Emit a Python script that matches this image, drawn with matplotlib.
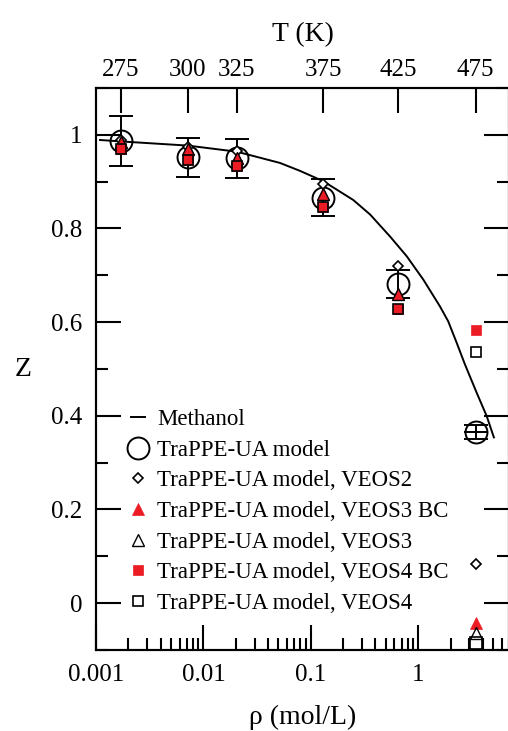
import matplotlib
matplotlib.use('Agg')
import matplotlib.pyplot as plt
from matplotlib.lines import Line2D
from matplotlib.ticker import LogLocator, NullLocator, FixedLocator, MultipleLocator, NullFormatter, FixedFormatter

plt.rcParams['font.family'] = ['Liberation Serif', 'DejaVu Serif']

# ---- data ----
temps = [275, 300, 325, 375, 425, 475]
rho_sat = [0.001705, 0.00716, 0.02046, 0.1306, 0.652, 3.42]

z_trappe = [0.987, 0.952, 0.950, 0.866, 0.681, 0.365]
z_trappe_err = [0.054, 0.042, 0.042, 0.040, 0.030, 0.015]
rho_trappe_err_lo = [0, 0, 0, 0, 0, 0.77]
rho_trappe_err_hi = [0, 0, 0, 0, 0, 0.99]
z_veos2 = [0.990, 0.975, 0.966, 0.896, 0.720, 0.083]
z_veos3_bc = [0.984, 0.969, 0.950, 0.873, 0.661, -0.042]
z_veos3 = [0.984, 0.969, 0.950, 0.873, 0.661, -0.063]
z_veos4_bc = [0.969, 0.947, 0.934, 0.845, 0.629, 0.584]
z_veos4 = [0.969, 0.947, 0.934, 0.845, 0.629, 0.536]
veos4_extra_rho = [3.42]
veos4_extra_z = [-0.086]

exp_rho = [0.00109, 0.00168, 0.00719, 0.0205, 0.0516, 0.0794, 0.1306, 0.248, 0.356,
           0.546, 0.780, 1.114, 1.59, 1.90, 2.28, 2.72, 3.49, 4.33, 5.06]
exp_z = [0.989, 0.986, 0.977, 0.964, 0.940, 0.923, 0.901, 0.861, 0.830,
         0.783, 0.741, 0.691, 0.634, 0.602, 0.556, 0.510, 0.450, 0.400, 0.354]

RED = '#ec1c24'
W = 508
H = 731
fig = plt.figure(figsize=(W / 100, H / 100), dpi=100)
ax = fig.add_axes([96 / W, 1 - 650 / H, 413 / W, 562 / H])

lw = 1.5
TICK_FS = 18
LABEL_FS = 20
ax.plot(exp_rho, exp_z, color='black', lw=1.4, zorder=2, solid_joinstyle='round')

ax.errorbar(rho_sat, z_trappe, yerr=z_trappe_err, fmt='o', ms=15.8, mfc='none',
            mec='black', mew=1.4, ecolor='black', elinewidth=1.4, capsize=8.5,
            capthick=1.4, zorder=3)
ax.errorbar(rho_sat, z_trappe, xerr=[rho_trappe_err_lo, rho_trappe_err_hi], fmt='none',
            ecolor='black', elinewidth=1.4, capsize=0, zorder=3)
ax.plot(rho_sat, z_veos2, 'D', ms=5.2, mfc='white', mec='black', mew=1.2, zorder=4)
ax.plot(rho_sat, z_veos3_bc, '^', ms=9, mfc=RED, mec=RED, mew=0.5, zorder=5)
ax.plot(rho_sat, z_veos3, '^', ms=9, mfc='none', mec='black', mew=1.0, zorder=6)
ax.plot(rho_sat, z_veos4_bc, 's', ms=7.5, mfc=RED, mec=RED, mew=0.5, zorder=7)
ax.plot(rho_sat, z_veos4, 's', ms=7.5, mfc='none', mec='black', mew=1.2, zorder=8)
ax.plot(veos4_extra_rho, veos4_extra_z, 's', ms=9, mfc='none', mec='black', mew=1.2,
        zorder=8, clip_on=False)

ax.set_xscale('log')
ax.set_xlim(0.001, 7.0)
ax.set_ylim(-0.1, 1.1)
ax.yaxis.set_minor_locator(MultipleLocator(0.1))
ax.xaxis.set_minor_locator(LogLocator(base=10, subs=range(2, 10), numticks=20))
ax.xaxis.set_minor_formatter(NullFormatter())
ax.set_xticks([0.001, 0.01, 0.1, 1])
ax.set_xticklabels(['0.001', '0.01', '0.1', '1'])
ax.set_yticks([0, 0.2, 0.4, 0.6, 0.8, 1.0])
ax.set_yticklabels(['0', '0.2', '0.4', '0.6', '0.8', '1'])

ax.tick_params(which='major', direction='in', length=18, width=lw, labelsize=TICK_FS,
               right=True, top=False, pad=10)
ax.tick_params(which='minor', direction='in', length=8.5, width=lw, right=True, top=False)
ax.tick_params(axis='x', which='major', pad=10)
for s in ax.spines.values():
    s.set_linewidth(lw)

ax.set_xlabel('ρ (mol/L)', fontsize=LABEL_FS, labelpad=14)
ax.set_ylabel('Z', fontsize=LABEL_FS, rotation=0, labelpad=20, va='center')

ax2 = ax.twiny()
ax2.set_xscale('log')
ax2.set_xlim(ax.get_xlim())
ax2.xaxis.set_major_locator(FixedLocator(rho_sat))
ax2.xaxis.set_major_formatter(FixedFormatter([str(t) for t in temps]))
ax2.xaxis.set_minor_locator(NullLocator())
ax2.tick_params(which='major', direction='in', length=18, width=lw, labelsize=TICK_FS, pad=5)
for s in ax2.spines.values():
    s.set_linewidth(lw)
ax2.set_xlabel('T (K)', fontsize=LABEL_FS, labelpad=13)

handles = [
    Line2D([], [], color='black', lw=1.4),
    Line2D([], [], ls='none', marker='o', ms=15.8, mfc='none', mec='black', mew=1.4),
    Line2D([], [], ls='none', marker='D', ms=5.2, mfc='white', mec='black', mew=1.2),
    Line2D([], [], ls='none', marker='^', ms=9, mfc=RED, mec=RED, mew=0.5),
    Line2D([], [], ls='none', marker='^', ms=9, mfc='none', mec='black', mew=1.0),
    Line2D([], [], ls='none', marker='s', ms=7.5, mfc=RED, mec=RED, mew=0.5),
    Line2D([], [], ls='none', marker='s', ms=7.5, mfc='none', mec='black', mew=1.2),
]
labels = ['Methanol', 'TraPPE-UA model', 'TraPPE-UA model, VEOS2',
          'TraPPE-UA model, VEOS3 BC', 'TraPPE-UA model, VEOS3',
          'TraPPE-UA model, VEOS4 BC', 'TraPPE-UA model, VEOS4']
leg = ax.legend(handles, labels, loc='upper left', bbox_to_anchor=(131 / W, 1 - 409 / H),
                bbox_transform=fig.transFigure, frameon=False, fontsize=16.5,
                handlelength=0.6, handletextpad=0.55, labelspacing=0.42,
                borderpad=0, borderaxespad=0, numpoints=1)

fig.savefig('out.png', dpi=100)
